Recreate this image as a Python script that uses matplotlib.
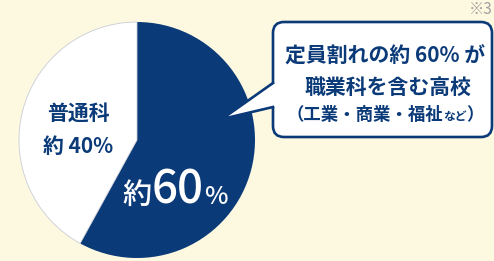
import matplotlib
matplotlib.use("Agg")
import matplotlib.pyplot as plt
from matplotlib.patches import FancyBboxPatch, Polygon
from matplotlib.lines import Line2D

plt.rcParams['font.family'] = ['Noto Sans CJK JP', 'DejaVu Sans']

# data
categories = ["職業科", "普通科"]
values = [58, 42]
pie_labels = ["約60%", "普通科\n約 40%"]
callout_lines = ["定員割れの約 60% が", "職業科を含む高校", "（工業・商業・福祉など）"]
note = "※3"

NAVY = "#0B3A79"
BG = "#FDF8E0"
W, H = 494, 261

fig = plt.figure(figsize=(W / 100, H / 100), dpi=100, facecolor=BG)
ax = fig.add_axes([0, 0, 1, 1])
ax.set_xlim(0, W)
ax.set_ylim(0, H)
ax.set_facecolor(BG)
ax.axis('off')

def Y(py):
    return H - py

# pie
wedges, _ = ax.pie(values, colors=[NAVY, "white"], startangle=90, counterclock=False,
                   center=(137, Y(140)), radius=118, frame=True,
                   wedgeprops=dict(linewidth=0))
wedges[1].set_edgecolor("#C9CDD6")
wedges[1].set_linewidth(0.6)
ax.set_xlim(0, W)
ax.set_ylim(0, H)
ax.axis('off')
ax.set_aspect('auto')

# callout bubble
bx0, by0, bx1, by1 = 273, 22, 492, 137
bubble = FancyBboxPatch((bx0, Y(by1)), bx1 - bx0, by1 - by0,
                        boxstyle="round,pad=0,rounding_size=11",
                        facecolor="white", edgecolor=NAVY, linewidth=1.9, zorder=3)
ax.add_patch(bubble)
tip = (222, Y(119))
p_top = (bx0, Y(83))
p_bot = (bx0, Y(107))
ax.add_patch(Polygon([(bx0 + 2, Y(83)), tip, (bx0 + 2, Y(107))], closed=True,
                     facecolor="white", edgecolor="none", zorder=4))
ax.add_line(Line2D([p_top[0], tip[0], p_bot[0]], [p_top[1], tip[1], p_bot[1]],
                   color=NAVY, linewidth=1.9, zorder=5, solid_joinstyle='miter'))

renderer = fig.canvas.get_renderer()

def draw_parts(parts, x, y_base, ha='center', color=NAVY, weight='bold'):
    texts = []
    widths = []
    for s, size in parts:
        t = ax.text(0, 0, s, fontsize=size, color=color, fontweight=weight,
                    ha='left', va='baseline', zorder=6)
        bb = t.get_window_extent(renderer=renderer)
        texts.append(t)
        widths.append(bb.width)
    total = sum(widths)
    cx = x - total / 2 if ha == 'center' else x
    for t, w in zip(texts, widths):
        t.set_position((cx, y_base))
        cx += w

# left labels
lab_top, lab_bot = pie_labels[1].split("\n")
draw_parts([(lab_top, 15)], 78, Y(120))
draw_parts([(lab_bot, 15)], 78, Y(153))

# big label
big = pie_labels[0]
draw_parts([(big[0], 21), (big[1:3], 33), (big[3], 18)], 175, Y(204), color="white",
           weight='medium')

# callout text
draw_parts([(callout_lines[0], 15)], 385, Y(63))
draw_parts([(callout_lines[1], 15)], 388, Y(94))
l3 = callout_lines[2]
draw_parts([(l3[:-3], 12.5), (l3[-3:-1], 8.5), (l3[-1], 12.5)], 385, Y(120))

# note
ax.text(493, Y(9), note, fontsize=11, color="#A0A0A0", ha='right', va='center')

fig.savefig("out.png", dpi=100, facecolor=BG)
